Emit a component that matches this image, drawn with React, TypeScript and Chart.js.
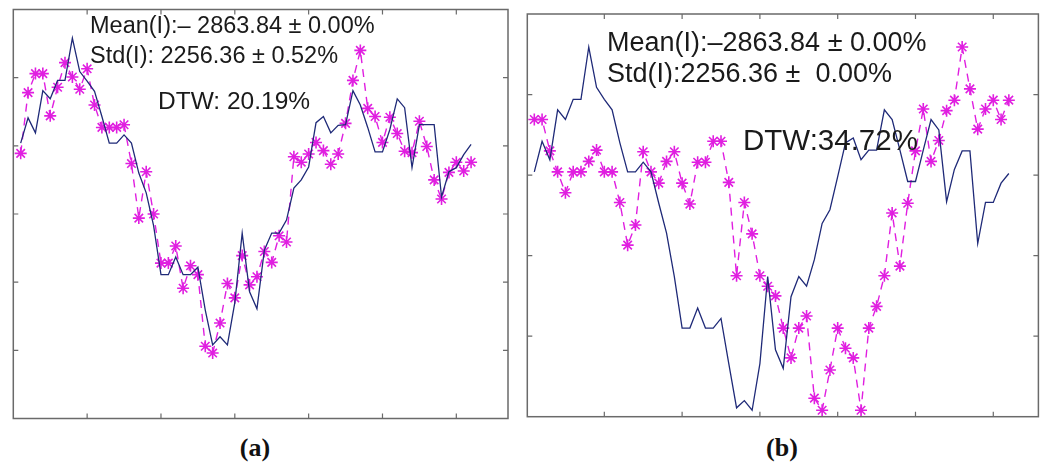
import React, { useEffect, useRef } from "react";
import { Chart, registerables } from "chart.js";

Chart.register(...registerables);

// sample index (1..62)
const sampleIndex = [
  1, 2, 3, 4, 5, 6, 7, 8, 9, 10, 11, 12, 13, 14, 15, 16, 17, 18, 19, 20, 21,
  22, 23, 24, 25, 26, 27, 28, 29, 30, 31, 32, 33, 34, 35, 36, 37, 38, 39, 40,
  41, 42, 43, 44, 45, 46, 47, 48, 49, 50, 51, 52, 53, 54, 55, 56, 57, 58, 59,
  60, 61, 62,
];

// Panel (a)
const originalA = [
  4.04, 4.41, 4.19, 4.81, 4.69, 4.96, 4.96, 5.58, 5.09, 4.95, 4.8, 4.43, 4.04,
  4.04, 4.16, 4.04, 3.6, 3.31, 2.83, 2.11, 2.11, 2.37, 2.11, 2.11, 2.22, 1.59,
  1.08, 1.2, 1.08, 1.7, 2.72, 1.86, 1.61, 2.47, 2.72, 2.72, 2.91, 3.38, 3.5,
  3.69, 4.34, 4.43, 4.19, 4.3, 4.31, 4.81, 4.6, 4.27, 3.91, 3.91, 4.24, 4.69,
  4.56, 3.68, 4.31, 4.31, 4.31, 3.25, 3.62, 3.68, 3.87, 4.02,
];
const generatedA = [
  3.89, 4.78, 5.06, 5.06, 4.44, 4.86, 5.22, 5.01, 4.83, 5.13, 4.6, 4.27, 4.27,
  4.27, 4.31, 3.74, 2.94, 3.62, 3.0, 2.28, 2.28, 2.53, 1.91, 2.24, 2.11, 1.06,
  0.96, 1.4, 1.98, 1.77, 2.39, 1.96, 2.08, 2.45, 2.29, 2.68, 2.59, 3.84, 3.76,
  3.88, 4.05, 3.93, 3.73, 3.88, 4.33, 4.96, 5.4, 4.55, 4.43, 4.05, 4.42, 4.18,
  3.92, 3.9, 4.36, 3.99, 3.5, 3.22, 3.61, 3.76, 3.63, 3.76,
];

// Panel (b)
const originalB = [
  3.04, 3.42, 3.19, 3.81, 3.69, 3.94, 3.94, 4.59, 4.09, 3.94, 3.81, 3.4, 3.04,
  3.04, 3.16, 3.04, 2.65, 2.28, 1.74, 1.1, 1.1, 1.35, 1.1, 1.1, 1.22, 0.66,
  0.11, 0.2, 0.08, 0.66, 1.74, 0.83, 0.6, 1.49, 1.74, 1.62, 1.95, 2.4, 2.57,
  2.98, 3.4, 3.46, 3.19, 3.31, 3.31, 3.81, 3.69, 3.31, 2.92, 2.92, 3.31, 3.69,
  3.56, 2.67, 3.07, 3.3, 3.3, 2.15, 2.66, 2.66, 2.9, 3.02,
];
const generatedB = [
  3.69, 3.69, 3.3, 3.04, 2.78, 3.04, 3.04, 3.17, 3.31, 3.04, 3.04, 2.66, 2.13,
  2.38, 3.29, 3.04, 2.9, 3.17, 3.29, 2.9, 2.64, 3.16, 3.16, 3.42, 3.42, 2.91,
  1.75, 2.66, 2.27, 1.75, 1.62, 1.5, 1.1, 0.73, 1.1, 1.25, 0.23, 0.08, 0.58,
  1.1, 0.85, 0.73, 0.08, 1.1, 1.37, 1.75, 2.53, 1.87, 2.65, 3.3, 3.82, 3.17,
  3.43, 3.8, 3.93, 4.59, 4.07, 3.57, 3.82, 3.93, 3.69, 3.93,
];

const xTickValues = [10, 20, 30, 40, 50, 60];
const yTickValuesA = [1, 2, 3, 4, 5];
const yTickValuesB = [1, 2, 3, 4];

const NAVY = "#1f2a78";
const MAGENTA = "#e01fe0";

function toPoints(ys: number[]) {
  return ys.map((y, i) => ({ x: sampleIndex[i], y }));
}

const framePlugin = {
  id: "matlabFrame",
  afterDraw(chart: any, _args: any, opts: any) {
    const { ctx, chartArea, scales } = chart;
    const { left, right, top, bottom } = chartArea;
    const tl = 5;
    ctx.save();
    ctx.strokeStyle = "#6a6a6a";
    ctx.lineWidth = 1.5;
    ctx.strokeRect(left, top, right - left, bottom - top);
    ctx.lineWidth = 1.2;
    ctx.beginPath();
    (opts.xTicks || []).forEach((v: number) => {
      const px = scales.x.getPixelForValue(v);
      ctx.moveTo(px, bottom);
      ctx.lineTo(px, bottom - tl);
      ctx.moveTo(px, top);
      ctx.lineTo(px, top + tl);
    });
    (opts.yTicks || []).forEach((v: number) => {
      const py = scales.y.getPixelForValue(v);
      ctx.moveTo(left, py);
      ctx.lineTo(left + tl, py);
      ctx.moveTo(right, py);
      ctx.lineTo(right - tl, py);
    });
    ctx.stroke();
    ctx.restore();
  },
};

type PanelProps = {
  original: number[];
  generated: number[];
  xMin: number;
  xMax: number;
  yMax: number;
  yTicks: number[];
  width: number;
  height: number;
  padding: { left: number; right: number; top: number; bottom: number };
};

function Panel(props: PanelProps) {
  const ref = useRef<HTMLCanvasElement | null>(null);
  useEffect(() => {
    if (!ref.current) return;
    const chart = new Chart(ref.current, {
      type: "line",
      data: {
        datasets: [
          {
            label: "original",
            data: toPoints(props.original),
            borderColor: NAVY,
            borderWidth: 1.3,
            pointRadius: 0,
            tension: 0,
            fill: false,
          },
          {
            label: "generated",
            data: toPoints(props.generated),
            borderColor: MAGENTA,
            borderWidth: 1.4,
            borderDash: [8, 6],
            pointStyle: "star",
            pointRadius: 6,
            pointBorderColor: MAGENTA,
            pointBorderWidth: 1.6,
            pointBackgroundColor: MAGENTA,
            tension: 0,
            fill: false,
          },
        ],
      },
      options: {
        responsive: false,
        animation: false,
        layout: { padding: props.padding },
        plugins: {
          legend: { display: false },
          tooltip: { enabled: false },
          title: { display: false },
          matlabFrame: { xTicks: xTickValues, yTicks: props.yTicks },
        } as any,
        scales: {
          x: { type: "linear", min: props.xMin, max: props.xMax, display: false },
          y: { type: "linear", min: 0, max: props.yMax, display: false },
        },
      },
      plugins: [framePlugin],
    });
    return () => chart.destroy();
  }, []);
  return (
    <canvas
      ref={ref}
      width={props.width}
      height={props.height}
      style={{ width: props.width, height: props.height, display: "block" }}
    />
  );
}

const textStyle: React.CSSProperties = {
  position: "absolute",
  fontFamily: "'Liberation Sans', Arial, sans-serif",
  color: "#1a1a1a",
  whiteSpace: "pre",
  lineHeight: 1,
};

const captionStyle: React.CSSProperties = {
  position: "absolute",
  fontFamily: "'Liberation Serif', 'DejaVu Serif', serif",
  fontWeight: "bold",
  fontSize: 26,
  color: "#111",
  lineHeight: 1,
  transform: "translateX(-50%)",
};

export default function App() {
  return (
    <div
      style={{
        position: "absolute",
        left: 0,
        top: 0,
        width: 1046,
        height: 463,
        background: "#fff",
        overflow: "hidden",
      }}
    >
      <div style={{ position: "absolute", left: 0, top: 0 }}>
        <Panel
          original={originalA}
          generated={generatedA}
          xMin={0}
          xMax={67}
          yMax={6}
          yTicks={yTickValuesA}
          width={518}
          height={430}
          padding={{ left: 13.3, right: 10, top: 9.5, bottom: 11.5 }}
        />
      </div>
      <div style={{ position: "absolute", left: 518, top: 0 }}>
        <Panel
          original={originalB}
          generated={generatedB}
          xMin={0.1}
          xMax={65.8}
          yMax={5}
          yTicks={yTickValuesB}
          width={528}
          height={430}
          padding={{ left: 9.3, right: 5, top: 14, bottom: 13.3 }}
        />
      </div>

      <div style={{ ...textStyle, left: 90, top: 13.5, fontSize: 23.5 }}>
        {"Mean(I):\u2013 2863.84 \u00B1 0.00%"}
      </div>
      <div style={{ ...textStyle, left: 90, top: 43.5, fontSize: 23.5 }}>
        {"Std(I): 2256.36 \u00B1 0.52%"}
      </div>
      <div style={{ ...textStyle, left: 158, top: 89, fontSize: 24.5 }}>
        {"DTW: 20.19%"}
      </div>

      <div style={{ ...textStyle, left: 607, top: 29, fontSize: 27 }}>
        {"Mean(I):\u20132863.84 \u00B1 0.00%"}
      </div>
      <div style={{ ...textStyle, left: 607, top: 60, fontSize: 27 }}>
        {"Std(I):2256.36 \u00B1  0.00%"}
      </div>
      <div style={{ ...textStyle, left: 743, top: 125, fontSize: 29.5 }}>
        {"DTW:34.72%"}
      </div>

      <div style={{ ...captionStyle, left: 255, top: 435 }}>(a)</div>
      <div style={{ ...captionStyle, left: 782, top: 435 }}>(b)</div>
    </div>
  );
}
